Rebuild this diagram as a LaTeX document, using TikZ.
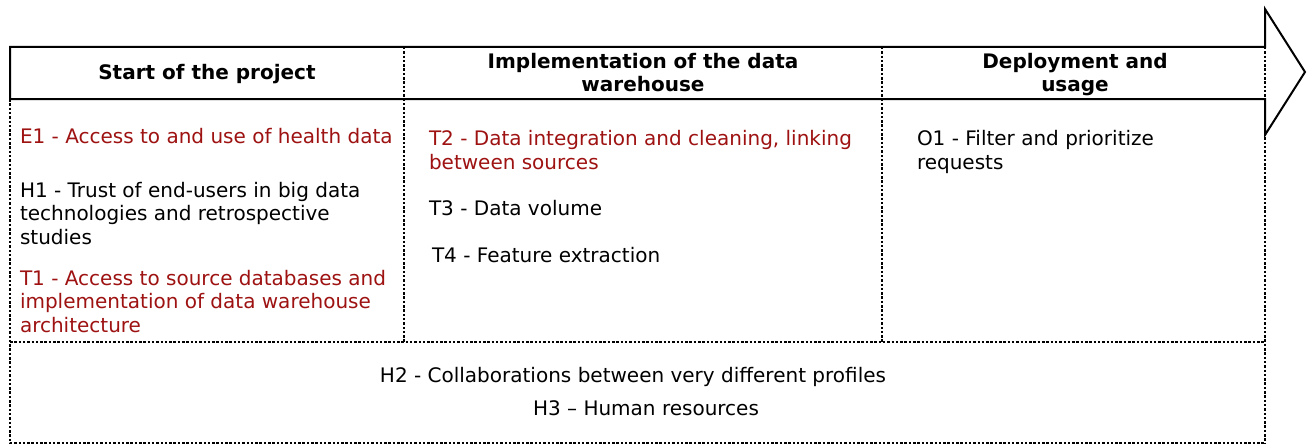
\documentclass[tikz,border=0pt]{standalone}
\usepackage{fontspec}
\setmainfont{DejaVu Sans}
\definecolor{issuered}{RGB}{158,18,18}
\begin{document}
\begin{tikzpicture}[x=1pt,y=-1pt,
  every node/.style={inner sep=0pt, outer sep=0pt},
  body/.style={font=\fontsize{20}{23.5}\selectfont, align=left, anchor=base west},
  issue/.style={body, text=issuered},
  head/.style={font=\fontsize{20}{23}\selectfont\bfseries, align=center, anchor=base},
  grid/.style={line width=2pt, dash pattern=on 2.5pt off 1.8pt},
  frame/.style={line width=2pt, line join=miter}]
\useasboundingbox (0,0) rectangle (1307,444);
\fill[white] (0,0) rectangle (1307,444);

% dotted cell borders
\draw[grid] (10,99) -- (10,443) -- (1265,443);
\draw[grid] (1265,47) -- (1265,443);
\draw[grid] (10,342) -- (1265,342);
\draw[grid] (404,47) -- (404,342);
\draw[grid] (882,47) -- (882,342);

% timeline arrow forming the header band
\draw[frame] (10,47) -- (1265,47) -- (1265,9) -- (1305,72) -- (1265,135)
  -- (1265,99) -- (10,99) -- cycle;

% phase headers (multi-line nodes sit on their last baseline)
\node[head] (h1) at (207,80) {Start of the project};
\node[head] (h2) at (643,92) {Implementation of the data\\warehouse};
\node[head] (h3) at (1075,92) {Deployment and\\usage};

% first phase
\node[issue] (e1) at (20,143) {E1 - Access to and use of health data};
\node[body] (hh1) at (20,244) {H1 - Trust of end-users in big data\\technologies and retrospective\\studies};
\node[issue] (t1) at (20,332) {T1 - Access to source databases and\\implementation of data warehouse\\architecture};

% second phase
\node[issue] (t2) at (429,169) {T2 - Data integration and cleaning, linking\\between sources};
\node[body] (t3) at (429,215) {T3 - Data volume};
\node[body] (t4) at (432,262) {T4 - Feature extraction};

% third phase
\node[body] (o1) at (917,169) {O1 - Filter and prioritize\\requests};

% transversal issues
\node[body, anchor=base] (hh2) at (633,382) {H2 - Collaborations between very different profiles};
\node[body, anchor=base] (hh3) at (646,415) {H3 – Human resources};
\end{tikzpicture}
\end{document}
